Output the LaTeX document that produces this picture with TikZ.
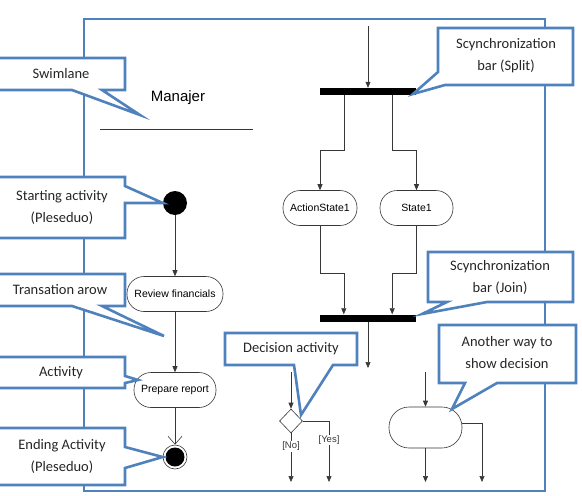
\documentclass[tikz,border=0pt]{standalone}
\usepackage{fontspec}
\setmainfont{Carlito}
\newfontfamily\umlfont{Liberation Sans}
\usetikzlibrary{arrows.meta,shapes.geometric}
\definecolor{noteblue}{RGB}{79,129,189}
\definecolor{umlgray}{RGB}{55,55,55}

\begin{document}
\begin{tikzpicture}[x=1pt,y=-1pt,
  uml/.style={draw=umlgray,line width=0.6pt},
  flow/.style={uml,-{Triangle[length=6pt,width=5pt]}},
  activity/.style={uml,rounded corners=17pt,minimum height=35pt,inner sep=0pt,
    font=\umlfont\fontsize{10.5}{12}\selectfont},
  syncbar/.style={fill=black,minimum width=96pt,minimum height=7pt,inner sep=0pt},
  note/.style={draw=noteblue,line width=2.6pt,fill=white},
  notetext/.style={align=center,font=\fontsize{14.5}{22}\selectfont,text=black!85},
  guard/.style={fill=white,inner sep=1pt,font=\umlfont\fontsize{9.5}{11}\selectfont,text=umlgray}]
  \useasboundingbox (0,0) rectangle (582,496);

  % swimlane frame
  \draw[noteblue,line width=2.6pt] (84,19) rectangle (545,491);
  \node[font=\umlfont\fontsize{15}{18}\selectfont] (lane) at (178,98) {Manajer};
  \draw[uml] (100,129) -- (253,129);

  % left column
  \node[circle,fill=black,minimum size=24pt,inner sep=0pt] (init) at (175,203) {};
  \node[activity,minimum width=96pt] (rev) at (175,294) {Review financials};
  \node[activity,minimum width=82pt] (prep) at (175,390) {Prepare report};
  \node[circle,uml,minimum size=24pt,inner sep=0pt] (final) at (175,457) {};
  \fill (final.center) circle (9.5pt);
  \draw[flow] (init) -- (rev);
  \draw[flow] (rev) -- (prep);
  \draw[uml,-{Straight Barb[length=8pt,width=14pt]}] (prep) -- (final);

  % fork and join
  \coordinate (forkin) at (368,26);
  \node[syncbar] (split) at (368,91.5) {};
  \node[activity,minimum width=74pt] (act1) at (320,208) {ActionState1};
  \node[activity,minimum width=73pt] (st1) at (416.5,208) {State1};
  \node[syncbar] (join) at (368,318) {};
  \coordinate (joinout) at (368,368);
  \draw[flow] (forkin) -- (split);
  \draw[flow] ([xshift=24pt]split.south west) -- ++(0,55) -| (act1.north);
  \draw[flow] ([xshift=-24pt]split.south east) -- ++(0,55) -| (st1.north);
  \draw[flow] (act1.south) -- ++(0,47) -| ([xshift=24pt]join.north west);
  \draw[flow] (st1.south) -- ++(0,47) -| ([xshift=-24pt]join.north east);
  \draw[flow] (join) -- (joinout);

  % decision with diamond
  \coordinate (decin) at (291,372);
  \node[diamond,uml,minimum width=23pt,minimum height=24pt,inner sep=0pt] (dec) at (291,421) {};
  \coordinate (noend) at (291,482);
  \coordinate (yesend) at (329,482);
  \draw[flow] (decin) -- (dec);
  \draw[flow] (dec.south) -- (noend) node[guard,pos=0.27] (no) {[No]};
  \draw[flow] (dec.east) -| (yesend);
  \node[guard] (yes) at (329,440) {[Yes]};

  % decision with rounded box
  \coordinate (altin) at (425.5,372);
  \node[activity,minimum width=73pt,minimum height=41pt,rounded corners=20pt] (alt) at (425.5,427.5) {};
  \coordinate (altend) at (425.5,482);
  \coordinate (altend2) at (482,482);
  \draw[flow] (altin) -- (alt);
  \draw[flow] (alt) -- (altend);
  \draw[flow] ([yshift=4pt]alt.east) -| (altend2);

  % callouts
  \draw[note] (-5,58) -- (125,58) -- (125,90) -- (102,90) -- (140,115) -- (72,90) -- (-5,90) -- cycle;
  \node[notetext] (n1) at (61,74) {Swimlane};
  \draw[note] (-5,177) -- (125,177) -- (125,186) -- (init.west) -- (125,203) -- (125,238) -- (-5,238) -- cycle;
  \node[notetext] (n2) at (62,207) {Starting activity\\(Pleseduo)};
  \draw[note] (-5,274) -- (125,274) -- (125,306) -- (102,306) -- (164,336) -- (72,306) -- (-5,306) -- cycle;
  \node[notetext] (n3) at (60,290) {Transation arow};
  \draw[note] (-5,357) -- (125,357) -- (125,376) -- (138,380) -- (125,383) -- (125,388) -- (-5,388) -- cycle;
  \node[notetext] (n4) at (61,373) {Activity};
  \draw[note] (-5,428) -- (125,428) -- (125,447) -- (final.west) -- (125,468) -- (125,485) -- (-5,485) -- cycle;
  \node[notetext] (n5) at (62,456) {Ending Activity\\(Pleseduo)};
  \draw[note] (438,28) -- (573,28) -- (573,85) -- (445,85) -- (413,94) -- (438,72) -- cycle;
  \node[notetext] (n6) at (506,56) {Scynchronization\\bar (Split)};
  \draw[note] (428,252) -- (573,252) -- (573,302) -- (487,302) -- (422,314) -- (447,302) -- (428,302) -- cycle;
  \node[notetext] (n7) at (500,277) {Scynchronization\\bar (Join)};
  \draw[note] (225,333) -- (357,333) -- (357,365) -- (333,365) -- (301,415) -- (294,365) -- (225,365) -- cycle;
  \node[notetext] (n8) at (291,349) {Decision activity};
  \draw[note] (439,325) -- (576,325) -- (576,383) -- (497,383) -- (452,409) -- (465,383) -- (439,383) -- cycle;
  \node[notetext] (n9) at (507,353) {Another way to\\show decision};
\end{tikzpicture}
\end{document}
